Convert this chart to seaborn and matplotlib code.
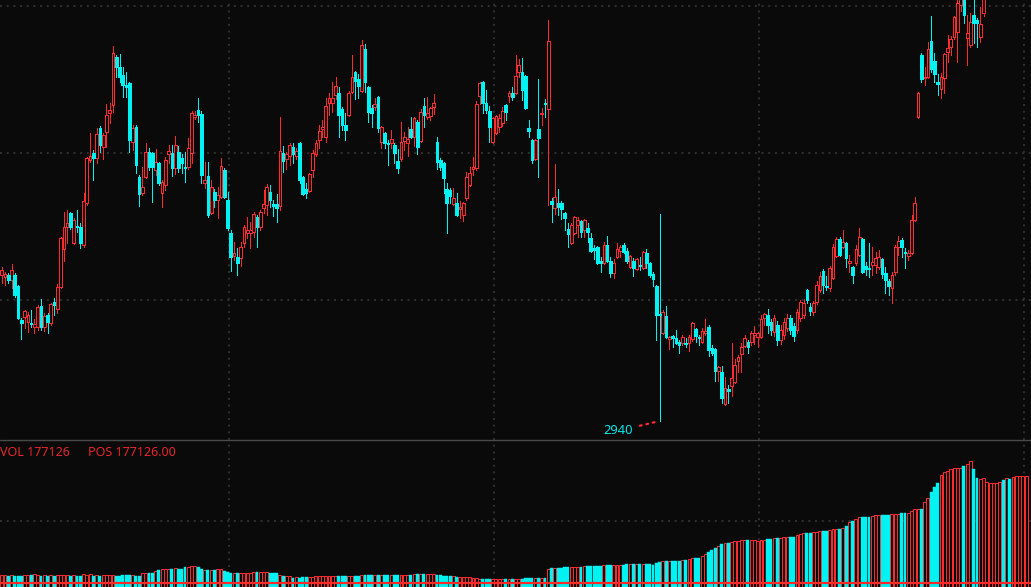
import numpy as np
import pandas as pd
import matplotlib
matplotlib.use("Agg")
import matplotlib.pyplot as plt
from matplotlib.lines import Line2D
import seaborn as sns

# ---------------- data ----------------
opens = [
    3086,3084,3086,3081,3086,3075,3041,3044,3039,3038,
    3034,3034,3055,3034,3046,3038,3059,3052,3074,3112,
    3134,3148,3118,3135,3134,3116,3158,3201,3208,3203,
    3233,3214,3229,3248,3256,3304,3294,3286,3276,3278,
    3219,3234,3184,3168,3184,3209,3208,3191,3198,3168,
    3176,3207,3208,3193,3209,3203,3194,3194,3208,3244,
    3251,3247,3178,3185,3148,3169,3161,3164,3191,3161,
    3128,3105,3104,3103,3118,3128,3128,3129,3144,3134,
    3153,3156,3169,3157,3157,3155,3208,3202,3205,3214,
    3205,3218,3184,3172,3170,3191,3207,3221,3232,3224,
    3258,3258,3266,3268,3252,3236,3246,3269,3289,3282,
    3270,3312,3274,3253,3254,3264,3219,3228,3218,3218,
    3216,3200,3202,3220,3218,3232,3224,3239,3220,3255,
    3244,3245,3254,3219,3201,3198,3172,3171,3157,3158,
    3152,3146,3163,3176,3192,3193,3265,3279,3258,3250,
    3219,3228,3234,3238,3256,3265,3268,3268,3289,3289,
    3285,3233,3221,3202,3232,3247,3258,3252,3160,3153,
    3158,3158,3148,3132,3118,3128,3136,3140,3131,3133,
    3123,3113,3114,3100,3098,3116,3100,3088,3104,3110,
    3116,3110,3094,3100,3092,3096,3093,3108,3098,3087,
    3075,3047,3028,3045,3022,3025,3023,3019,3018,3018,
    3018,3022,3032,3024,3019,3028,3034,3013,3012,2990,
    2989,2957,2972,2975,2979,3000,3007,3015,3019,3019,
    3026,3024,3024,3043,3046,3039,3029,3036,3021,3026,
    3033,3043,3035,3031,3043,3046,3071,3054,3049,3059,
    3071,3090,3075,3073,3083,3105,3122,3114,3118,3098,
    3094,3098,3106,3122,3095,3093,3096,3096,3094,3102,
    3088,3080,3073,3089,3114,3121,3109,3105,3108,3141,
    3244,3306,3283,3284,3320,3300,3279,3272,3283,3309,
    3314,3324,3329,3356,3370,3323,3316,3346,3341,3324,
    3348,3372,3380,3388,3390,3395,3404,3392,3403,3394,
    3400,3405,3408,3410,
]
highs = [
    3094,3089,3088,3097,3088,3076,3043,3051,3049,3051,
    3042,3056,3062,3048,3048,3058,3063,3077,3124,3149,
    3151,3149,3143,3151,3138,3168,3204,3228,3211,3233,
    3235,3228,3257,3258,3315,3306,3307,3294,3289,3279,
    3236,3236,3186,3194,3218,3213,3209,3212,3199,3181,
    3204,3216,3216,3225,3215,3207,3209,3223,3250,3250,
    3263,3250,3199,3199,3181,3172,3174,3203,3193,3169,
    3131,3119,3113,3119,3136,3144,3139,3149,3146,3151,
    3171,3177,3176,3161,3167,3244,3215,3209,3218,3218,
    3213,3219,3185,3178,3188,3211,3221,3236,3241,3263,
    3268,3279,3284,3274,3254,3248,3270,3306,3290,3287,
    3321,3317,3275,3256,3263,3265,3235,3229,3221,3231,
    3218,3212,3239,3229,3234,3244,3244,3241,3252,3263,
    3264,3254,3267,3224,3203,3199,3178,3173,3173,3168,
    3160,3159,3189,3194,3204,3260,3279,3280,3271,3255,
    3244,3246,3247,3254,3257,3270,3274,3306,3302,3303,
    3286,3241,3222,3222,3282,3253,3262,3341,3163,3197,
    3172,3160,3149,3138,3138,3145,3144,3141,3142,3138,
    3128,3116,3115,3104,3119,3125,3104,3102,3118,3116,
    3118,3113,3106,3103,3103,3104,3110,3112,3099,3089,
    3076,3147,3051,3055,3025,3026,3031,3021,3026,3023,
    3026,3039,3033,3026,3033,3042,3036,3016,3013,2995,
    2995,2984,2976,3018,3002,3006,3018,3026,3021,3030,
    3035,3029,3046,3048,3052,3042,3046,3040,3036,3043,
    3047,3046,3038,3052,3061,3062,3072,3058,3060,3080,
    3089,3092,3085,3095,3117,3124,3124,3131,3119,3106,
    3095,3116,3133,3123,3099,3118,3114,3109,3111,3103,
    3094,3082,3089,3116,3125,3123,3113,3111,3146,3164,
    3269,3308,3294,3319,3345,3308,3287,3288,3308,3326,
    3325,3345,3365,3375,3378,3346,3348,3365,3343,3354,
    3380,3390,3398,3402,3406,3410,3408,3409,3406,3411,
    3414,3418,3420,3424,
]
lows = [
    3078,3076,3078,3073,3064,3042,3022,3033,3029,3034,
    3028,3031,3031,3030,3028,3036,3046,3048,3073,3100,
    3118,3132,3117,3129,3113,3114,3156,3199,3181,3198,
    3209,3202,3214,3238,3249,3284,3279,3264,3264,3209,
    3211,3188,3155,3166,3183,3191,3159,3186,3176,3154,
    3171,3198,3185,3187,3189,3188,3179,3192,3198,3242,
    3239,3178,3173,3144,3147,3154,3143,3163,3163,3131,
    3090,3101,3086,3095,3114,3123,3113,3124,3114,3131,
    3148,3146,3154,3145,3139,3151,3189,3192,3196,3198,
    3202,3178,3166,3163,3169,3184,3205,3213,3224,3219,
    3246,3249,3262,3224,3231,3221,3245,3268,3262,3263,
    3269,3269,3239,3234,3251,3229,3213,3213,3196,3213,
    3198,3188,3200,3211,3205,3223,3215,3207,3219,3234,
    3242,3241,3247,3192,3191,3168,3128,3158,3156,3145,
    3143,3140,3161,3175,3186,3191,3257,3248,3248,3219,
    3218,3227,3229,3235,3241,3259,3261,3267,3284,3261,
    3252,3224,3198,3201,3184,3236,3244,3156,3139,3147,
    3146,3142,3131,3114,3117,3127,3124,3124,3124,3119,
    3109,3102,3097,3089,3097,3099,3084,3083,3103,3104,
    3108,3098,3093,3085,3091,3091,3092,3093,3084,3075,
    3021,2940,3027,3023,3012,3014,3017,3008,3016,3014,
    3010,3020,3019,3016,3018,3026,3005,3006,2980,2980,
    2958,2956,2958,2965,2978,2989,2989,3014,3008,3016,
    3017,3014,3023,3036,3028,3026,3025,3016,3017,3022,
    3030,3027,3020,3028,3040,3043,3058,3046,3046,3057,
    3069,3068,3071,3070,3082,3104,3105,3113,3094,3089,
    3078,3096,3105,3088,3086,3084,3086,3088,3092,3083,
    3068,3066,3058,3086,3106,3104,3093,3101,3107,3140,
    3243,3279,3276,3283,3289,3279,3266,3263,3268,3299,
    3306,3322,3299,3350,3338,3296,3314,3318,3314,3319,
    3345,3368,3376,3383,3386,3390,3388,3388,3390,3390,
    3396,3401,3404,3406,
]
closes = [
    3091,3087,3081,3091,3066,3043,3038,3050,3046,3037,
    3037,3054,3034,3045,3039,3057,3056,3074,3123,3134,
    3138,3134,3141,3134,3118,3160,3203,3205,3203,3227,
    3216,3226,3246,3251,3308,3294,3284,3276,3274,3221,
    3233,3196,3167,3174,3209,3194,3194,3199,3178,3179,
    3201,3210,3193,3216,3193,3198,3193,3213,3248,3246,
    3246,3186,3181,3146,3174,3161,3166,3195,3164,3133,
    3104,3108,3098,3114,3134,3131,3131,3147,3134,3149,
    3157,3174,3161,3155,3153,3210,3200,3207,3216,3207,
    3210,3181,3167,3168,3187,3208,3218,3230,3234,3255,
    3263,3263,3275,3246,3236,3231,3268,3284,3280,3275,
    3316,3279,3249,3248,3257,3233,3234,3218,3217,3222,
    3208,3193,3219,3224,3222,3224,3243,3214,3249,3246,
    3248,3253,3258,3199,3194,3183,3158,3165,3163,3146,
    3154,3158,3184,3188,3194,3257,3278,3258,3251,3234,
    3243,3245,3243,3250,3249,3268,3264,3285,3296,3271,
    3253,3230,3201,3221,3223,3248,3257,3320,3157,3164,
    3154,3152,3143,3127,3136,3144,3141,3129,3141,3129,
    3110,3111,3098,3098,3116,3100,3088,3098,3112,3114,
    3109,3100,3105,3093,3102,3095,3109,3098,3086,3082,
    3046,3046,3049,3024,3024,3023,3018,3016,3024,3017,
    3024,3038,3025,3023,3030,3030,3011,3008,2990,2994,
    2963,2973,2970,2983,2996,3004,3014,3023,3014,3028,
    3028,3028,3042,3047,3036,3031,3043,3021,3031,3039,
    3043,3031,3025,3049,3059,3058,3061,3050,3058,3076,
    3085,3076,3074,3093,3114,3122,3106,3119,3103,3100,
    3086,3112,3124,3089,3092,3092,3099,3103,3104,3087,
    3081,3075,3086,3114,3120,3114,3108,3108,3141,3158,
    3268,3282,3284,3312,3292,3287,3277,3284,3307,3313,
    3322,3344,3358,3368,3346,3328,3339,3338,3338,3337,
    3372,3385,3392,3396,3401,3404,3394,3403,3395,3405,
    3409,3412,3415,3418,
]
positions = [
    78300,78300,77300,78300,77300,77300,77300,78000,78000,78000,
    79300,78300,77300,78000,77300,78000,77300,78000,78000,78000,
    78000,77300,78000,77300,77300,79300,78300,79300,77300,78000,
    77300,78000,78000,78000,78000,77300,77300,78300,78300,78300,
    78000,77300,77300,80600,80600,80600,80600,82600,83300,84000,
    84600,84600,84300,85000,84000,84000,86000,86600,87300,87300,
    86000,84600,83300,83300,83300,83300,84000,84000,82600,81600,
    80000,80600,80600,80600,80600,80600,80600,81300,81300,81600,
    81600,81600,80600,80600,80600,78300,77300,77300,77300,75000,
    76600,75000,76000,76000,76600,76600,77000,77000,77300,77300,
    77300,77300,77300,77000,77000,77000,77300,77300,77000,77000,
    78000,78000,78000,78000,78000,78000,78000,78000,78000,78000,
    78000,78000,78600,78600,78600,78600,79000,79000,79000,79000,
    79000,79000,79000,78000,78000,77300,77300,77000,77000,76600,
    76600,76600,76000,76000,75600,75000,74600,74600,74000,74000,
    74000,74000,74000,74000,74000,74000,74000,74600,74600,74600,
    75000,75000,75000,75000,75300,75300,75300,84000,85000,85300,
    85300,85600,86000,86300,86300,86600,86600,86600,87000,87000,
    87300,87300,87600,87600,88000,88000,88300,88300,88600,88600,
    88600,89000,89000,89000,89300,89300,89300,89600,89300,88300,
    90000,91000,92000,92300,92000,92600,92600,92600,93000,93500,
    94000,95300,95600,95600,97300,99000,101600,103300,105000,107300,
    109000,110000,110000,111600,112600,112600,113300,113300,113300,113300,
    113300,112600,113300,113300,114000,114000,115600,115600,115600,116600,
    116600,116600,116600,118000,119300,120300,120600,120600,121600,121600,
    122600,122600,122600,123300,124600,124600,124600,125300,127300,131300,
    132600,134000,136000,136000,136000,136000,137300,138300,138300,138600,
    138600,138600,139300,139300,139300,140600,140600,140600,142600,144600,
    144000,144000,151300,155600,161600,166600,170000,178300,181000,182300,
    184000,185000,185000,185000,187300,189300,192600,184000,175600,174000,
    175000,171600,170000,170000,170000,171600,173300,175000,174000,176000,
    177300,177300,177300,177126,
]
low_label = "2940"
vol_label = "VOL 177126"
pos_label = "POS 177126.00"

# ---------------- style ----------------
BG = "#0a0a0a"
RED = "#ff2b2b"
CYAN = "#00f2f2"
GRID = "#333333"
DOTS = (0, (1.1, 2.6))

sns.set_theme(style="dark", rc={"axes.facecolor": BG, "figure.facecolor": BG,
                                "savefig.facecolor": BG})
plt.rcParams["font.family"] = ["Noto Sans", "DejaVu Sans"]

W, H = 1031, 587
fig = plt.figure(figsize=(W / 100, H / 100), dpi=100)
ax = fig.add_axes([0, (H - 440) / H, 1, 440 / H])
axv = fig.add_axes([0, 0, 1, 146 / H])

o = np.array(opens, float)
h = np.array(highs, float)
l = np.array(lows, float)
c = np.array(closes, float)
x = np.arange(len(o))
up = c > o

# wicks
ax.vlines(x[up], l[up], h[up], colors=RED, linewidth=0.72, zorder=2, antialiased=False)
ax.vlines(x[~up], l[~up], h[~up], colors=CYAN, linewidth=0.72, zorder=2, antialiased=False)
# bodies
body_bot = np.minimum(o, c)
body_h = np.maximum(np.abs(c - o), 1.0)
ax.bar(x[up], body_h[up], bottom=body_bot[up], width=0.82, facecolor=BG,
       edgecolor=RED, linewidth=0.7, zorder=3, antialiased=False)
ax.bar(x[~up], body_h[~up], bottom=body_bot[~up], width=0.8, facecolor=CYAN,
       edgecolor=CYAN, linewidth=0.4, zorder=3, antialiased=False)

ax.set_xlim(-0.52, 314.5)
ax.set_ylim(2921, 3361)

# low label with dotted leader
imin = int(np.argmin(l))
ax.annotate(low_label, xy=(x[imin], l[imin]), xytext=(-27, -10),
            textcoords="offset pixels", ha="right", va="center",
            color="#00e8e8", fontsize=9.3,
            arrowprops=dict(arrowstyle="-", color=RED, lw=1.6,
                            linestyle=(0, (0.8, 2.2)), shrinkA=3, shrinkB=1))

# grid
grid_x = [69.45, 150.4, 231.4, 312.3]
for gy in [3355, 3208, 3061]:
    ax.axhline(gy, color=GRID, lw=1.3, linestyle=DOTS, zorder=1)
for gx in grid_x:
    ax.axvline(gx, color=GRID, lw=1.3, linestyle=DOTS, zorder=1)
    axv.axvline(gx, color=GRID, lw=1.3, linestyle=DOTS, zorder=1)
axv.axhline(132300, color=GRID, lw=1.3, linestyle=DOTS, zorder=1)

# position bars (seaborn)
df = pd.DataFrame({"idx": x, "pos": positions, "up": up})
sns.barplot(data=df[df["up"]], x="idx", y="pos", native_scale=True, width=0.9,
            color=BG, saturation=1, edgecolor=RED, linewidth=0.72,
            errorbar=None, ax=axv, zorder=3)
sns.barplot(data=df[~df["up"]], x="idx", y="pos", native_scale=True, width=0.9,
            color=CYAN, saturation=1, edgecolor=CYAN, linewidth=0.3,
            errorbar=None, ax=axv, zorder=3)
axv.axhline(70000, color=RED, lw=1.6, zorder=4)
axv.set_xlim(-0.52, 314.5)
axv.set_ylim(66300, 212300)

for a in (ax, axv):
    a.set_facecolor(BG)
    a.set_xlabel("")
    a.set_ylabel("")
    a.set_xticks([])
    a.set_yticks([])
    for s in a.spines.values():
        s.set_visible(False)
    a.grid(False)

# separator
fig.add_artist(Line2D([0, 1], [(H - 440) / H, (H - 440) / H],
                      transform=fig.transFigure, color="#4a4a4a", lw=1.0))

# labels
fig.text(0.5 / W, (H - 456.5) / H, vol_label, color="#e8262c", fontsize=9,
         ha="left", va="baseline")
fig.text(88 / W, (H - 456.5) / H, pos_label, color="#e8262c", fontsize=9,
         ha="left", va="baseline")

fig.savefig("out.png", dpi=100, facecolor=BG)
